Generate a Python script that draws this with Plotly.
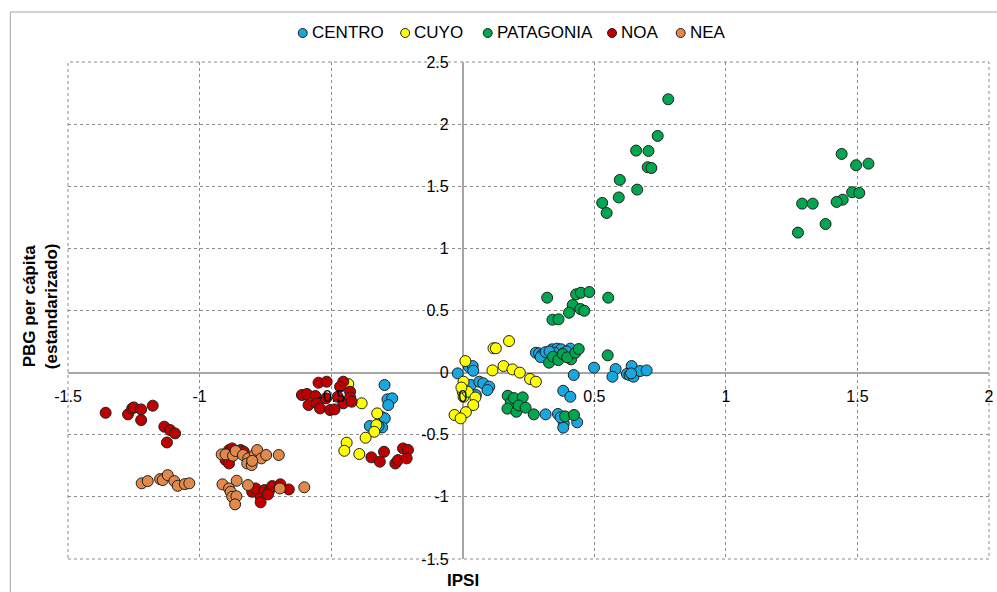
import plotly.graph_objects as go

# ---------------- data ----------------
centro_x = [-0.019, 0.023, 0.038, 0.040, 0.031, 0.063, 0.078, 0.101, 0.094, 0.050,
            0.278, 0.290, 0.302, 0.296, 0.315, 0.340, 0.359, 0.374, 0.409, 0.349, 0.384, 0.330, 0.395,
            0.499, 0.422, 0.581, 0.569, 0.642, 0.624, 0.634, 0.649, 0.674, 0.699, 0.640,
            0.382, 0.409, 0.315, 0.362, 0.384, 0.382, 0.435, 0.372,
            -0.297, -0.286, -0.268, -0.283, -0.309, -0.296, -0.353, -0.306, -0.320]
centro_y = [-0.006, 0.048, 0.053, 0.015, -0.100, -0.073, -0.086, -0.113, -0.140, -0.180,
            0.160, 0.155, 0.144, 0.125, 0.165, 0.188, 0.193, 0.188, 0.193, 0.160, 0.155, 0.170, 0.170,
            0.040, -0.019, 0.029, -0.033, 0.053, -0.011, -0.019, -0.033, 0.013, 0.018, -0.006,
            -0.146, -0.194, -0.336, -0.333, -0.409, -0.443, -0.400, -0.360,
            -0.100, -0.215, -0.207, -0.261, -0.355, -0.368, -0.430, -0.441, -0.430]

cuyo_x = [0.176, 0.117, 0.126, 0.010, 0.155, 0.113, 0.189, 0.217, 0.256, 0.278,
          0.003, 0.000, 0.003, 0.019, 0.048, 0.040, 0.012, -0.031, -0.008, -0.005,
          -0.435, -0.384, -0.325, -0.328, -0.336, -0.369, -0.441, -0.450, -0.393]
cuyo_y = [0.254, 0.196, 0.196, 0.093, 0.053, 0.018, 0.026, 0.000, -0.051, -0.073,
          -0.073, -0.154, -0.194, -0.154, -0.200, -0.261, -0.318, -0.341, -0.368, -0.120,
          -0.092, -0.247, -0.328, -0.422, -0.476, -0.524, -0.564, -0.629, -0.655]

patagonia_x = [0.781, 0.741, 0.659, 0.706, 0.703, 0.717, 0.597, 0.663, 0.593, 0.530, 0.547,
               1.440, 1.495, 1.542, 1.480, 1.507, 1.444, 1.421, 1.290, 1.330, 1.379, 1.274,
               0.321, 0.431, 0.449, 0.481, 0.553, 0.418, 0.447, 0.462, 0.404, 0.341, 0.364,
               0.328, 0.343, 0.363, 0.380, 0.412, 0.397, 0.428, 0.441, 0.551,
               0.171, 0.183, 0.195, 0.228, 0.170, 0.204, 0.213, 0.239, 0.270, 0.389, 0.423]
patagonia_y = [2.200, 1.905, 1.787, 1.784, 1.653, 1.647, 1.551, 1.473, 1.410, 1.366, 1.285,
               1.760, 1.669, 1.682, 1.452, 1.446, 1.392, 1.374, 1.360, 1.360, 1.196, 1.127,
               0.603, 0.630, 0.643, 0.649, 0.603, 0.544, 0.512, 0.498, 0.482, 0.426, 0.429,
               0.080, 0.128, 0.101, 0.150, 0.107, 0.123, 0.160, 0.190, 0.139,
               -0.186, -0.239, -0.205, -0.199, -0.290, -0.315, -0.264, -0.282, -0.336, -0.352, -0.341]

noa_x = [-1.357, -1.272, -1.256, -1.250, -1.222, -1.178, -1.222, -1.134, -1.112, -1.093, -1.124,
         -0.888, -0.901, -0.888, -0.844, -0.832, -0.876,
         -0.800, -0.768, -0.768, -0.787, -0.753, -0.737, -0.724, -0.693, -0.661, -0.740,
         -0.548, -0.517, -0.454, -0.428, -0.466, -0.611, -0.592, -0.560, -0.586, -0.554,
         -0.542, -0.504, -0.487, -0.454, -0.428, -0.520, -0.475, -0.422,
         -0.347, -0.315, -0.299, -0.256, -0.246, -0.227, -0.208, -0.213]
noa_y = [-0.323, -0.336, -0.288, -0.280, -0.296, -0.266, -0.382, -0.435, -0.462, -0.489, -0.562,
         -0.623, -0.704, -0.731, -0.623, -0.636, -0.610,
         -0.959, -0.999, -1.044, -0.932, -0.945, -0.959, -0.913, -0.899, -0.940, -0.980,
         -0.081, -0.073, -0.073, -0.154, -0.113, -0.180, -0.172, -0.188, -0.261, -0.247,
         -0.288, -0.301, -0.296, -0.247, -0.199, -0.207, -0.194, -0.234,
         -0.682, -0.717, -0.637, -0.731, -0.704, -0.610, -0.622, -0.690]

nea_x = [-0.916, -0.901, -0.873, -0.863, -0.835, -0.815, -0.819, -0.802, -0.790, -0.781, -0.765,
         -0.747, -0.699, -0.800,
         -0.913, -0.888, -0.859, -0.882, -0.876, -0.860, -0.865, -0.816, -0.695, -0.602,
         -1.220, -1.197, -1.150, -1.140, -1.121, -1.096, -1.083, -1.056, -1.039]
nea_y = [-0.658, -0.658, -0.669, -0.631, -0.663, -0.690, -0.731, -0.744, -0.658, -0.623, -0.690,
         -0.663, -0.663, -0.710,
         -0.899, -0.932, -0.870, -0.959, -0.999, -0.995, -1.060, -0.905, -0.932, -0.923,
         -0.891, -0.873, -0.857, -0.865, -0.825, -0.873, -0.911, -0.897, -0.891]

series_names = ["CENTRO", "CUYO", "PATAGONIA", "NOA", "NEA"]
series_colors = ["#1AA7E0", "#FFFF00", "#00A650", "#C00000", "#E0894A"]
series_data = [(centro_x, centro_y), (cuyo_x, cuyo_y), (patagonia_x, patagonia_y),
               (noa_x, noa_y), (nea_x, nea_y)]

x_range = [-1.5, 2]
y_range = [-1.5, 2.5]
x_tickvals = [-1.5, -1, -0.5, 0, 0.5, 1, 1.5, 2]
x_ticktext = ["-1.5", "-1", "-0.5", "0", "0.5", "1", "1.5", "2"]
y_tickvals = [-1.5, -1, -0.5, 0, 0.5, 1, 1.5, 2, 2.5]
y_ticktext = ["-1.5", "-1", "-0.5", "0", "0.5", "1", "1.5", "2", "2.5"]
x_title = "IPSI"
y_title = "PBG per cápita<br>(estandarizado)"

FONT = "Liberation Sans, Arial, sans-serif"

# layout: legend item marker centres (pixels)
legend_marker_px = [304, 407, 490, 615, 684]
legend_y_px = 33

# ---------------- figure ----------------
fig = go.Figure()
for name, color, (xs, ys) in zip(series_names, series_colors, series_data):
    fig.add_trace(go.Scatter(
        x=xs, y=ys, mode="markers", name=name, showlegend=False,
        marker=dict(size=11, color=color, line=dict(color="#202020", width=1)),
    ))

W, H = 997, 592
ml, mr, mt, mb = 68, 3, 62, 33
pw, ph = W - ml - mr, H - mt - mb

def px_x(p):
    return (p - ml) / pw

def px_y(p):
    return (H - mb - p) / ph

x_pos = (0 - y_range[0]) / (y_range[1] - y_range[0])
y_pos = (0 - x_range[0]) / (x_range[1] - x_range[0])

axis_common = dict(
    showgrid=True, gridcolor="#8C8C8C", griddash="dot", gridwidth=1,
    zeroline=True, zerolinecolor="#A6A6A6", zerolinewidth=1.5,
    showline=False, ticks="", tickmode="array",
    tickfont=dict(family=FONT, size=16, color="#000000"),
    anchor="free", ticklabeloverflow="allow",
)

shapes = [
    dict(type="rect", xref="paper", yref="paper", x0=0, y0=0, x1=1, y1=1,
         line=dict(color="#8C8C8C", width=1, dash="dot"), layer="below"),
    dict(type="rect", xref="paper", yref="paper",
         x0=px_x(10), x1=px_x(1010), y0=px_y(620), y1=px_y(12),
         line=dict(color="#A6A6A6", width=1), layer="below"),
]
annotations = [
    dict(text="<b>%s</b>" % x_title, xref="paper", yref="paper",
         x=px_x(465), y=px_y(580), showarrow=False,
         font=dict(family=FONT, size=17), xanchor="center", yanchor="middle"),
    dict(text="<b>%s</b>" % y_title, xref="paper", yref="paper",
         x=px_x(40), y=px_y(306), showarrow=False, textangle=-90,
         font=dict(family=FONT, size=17), xanchor="center", yanchor="middle"),
]

# legend (drawn as symbol + label)
r = 4.5
for name, color, cx in zip(series_names, series_colors, legend_marker_px):
    shapes.append(dict(type="circle", xref="paper", yref="paper",
                       x0=px_x(cx - r), x1=px_x(cx + r),
                       y0=px_y(legend_y_px + r), y1=px_y(legend_y_px - r),
                       fillcolor=color, line=dict(color="#202020", width=1)))
    annotations.append(dict(text=name, xref="paper", yref="paper",
                            x=px_x(cx + 7), y=px_y(legend_y_px), showarrow=False,
                            xanchor="left", yanchor="middle",
                            font=dict(family=FONT, size=17, color="#000000")))

fig.update_layout(
    width=W, height=H, autosize=False,
    margin=dict(l=ml, r=mr, t=mt, b=mb),
    paper_bgcolor="white", plot_bgcolor="white",
    font=dict(family=FONT, size=16, color="#000000"),
    showlegend=False,
    xaxis=dict(range=x_range, position=x_pos, tickvals=x_tickvals, ticktext=x_ticktext,
               ticklabelstandoff=12, **axis_common),
    yaxis=dict(range=y_range, position=y_pos, tickvals=y_tickvals, ticktext=y_ticktext,
               ticklabelstandoff=14, **axis_common),
    shapes=shapes,
    annotations=annotations,
)

fig.write_html("out.html")
